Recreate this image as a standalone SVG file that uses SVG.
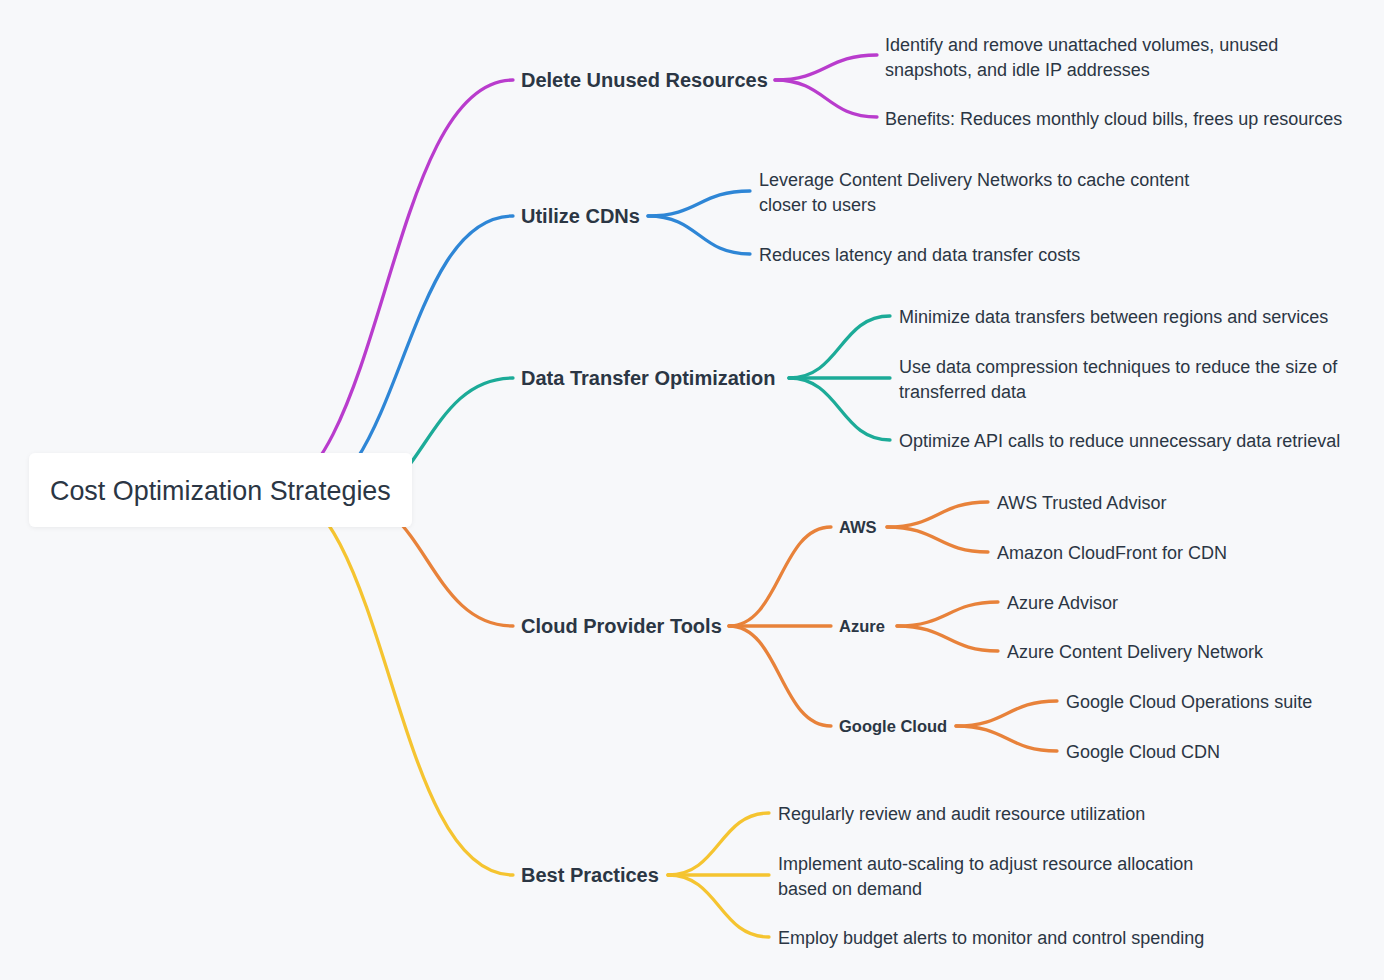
<svg xmlns="http://www.w3.org/2000/svg" width="1384" height="980" viewBox="0 0 1384 980">
<defs>
<style>
.bg{fill:#f7f8fa}
.lk{fill:none;stroke-width:3.3;stroke-linecap:round}
.p{stroke:#b93ccd}.b{stroke:#2e86d6}.t{stroke:#1cab98}.o{stroke:#e8823a}.y{stroke:#f5c430}
text{font-family:"Liberation Sans",Arial,sans-serif;fill:#2b3644}
.root{font-size:26.9px}
.l1{font-size:20px;font-weight:bold}
.l2{font-size:16.5px;font-weight:bold}
.lf{font-size:18px}
</style>
<filter id="sh" x="-10%" y="-30%" width="120%" height="160%">
<feDropShadow dx="0" dy="1" stdDeviation="2" flood-color="#000" flood-opacity="0.06"/>
</filter>
</defs>
<rect class="bg" x="0" y="0" width="1384" height="980"/>
<g id="connectors">
<path class="lk p" d="M257 500 C385 500 385 80 513 80"/>
<path class="lk b" d="M291 504 C402 504 402 216 513 216"/>
<path class="lk t" d="M335 510 C424 510 424 378 513 378"/>
<path class="lk o" d="M341 494 C427 494 427 626 513 626"/>
<path class="lk y" d="M267 483 C390 483 390 875 513 875"/>
<path class="lk p" d="M775 80 C826 80 826 55 877 55"/>
<path class="lk p" d="M775 80 C826 80 826 117 877 117"/>
<path class="lk b" d="M648 216 C699 216 699 191 750 191"/>
<path class="lk b" d="M648 216 C699 216 699 254 750 254"/>
<path class="lk t" d="M789 378 C840 378 840 316 890 316"/>
<path class="lk t" d="M789 378 L890 378"/>
<path class="lk t" d="M789 378 C840 378 840 440 890 440"/>
<path class="lk o" d="M729 626 C780 626 780 527 831 527"/>
<path class="lk o" d="M729 626 L831 626"/>
<path class="lk o" d="M729 626 C780 626 780 726 831 726"/>
<path class="lk o" d="M887 527 C938 527 938 502 988 502"/>
<path class="lk o" d="M887 527 C938 527 938 552 988 552"/>
<path class="lk o" d="M897 626 C948 626 948 602 998 602"/>
<path class="lk o" d="M897 626 C948 626 948 651 998 651"/>
<path class="lk o" d="M956 726 C1007 726 1007 701 1057 701"/>
<path class="lk o" d="M956 726 C1007 726 1007 751 1057 751"/>
<path class="lk y" d="M668 875 C719 875 719 813 769 813"/>
<path class="lk y" d="M668 875 L769 875"/>
<path class="lk y" d="M668 875 C719 875 719 937 769 937"/>
</g>
<g id="root">
<rect x="29" y="453" width="383" height="74" rx="6" fill="#ffffff" filter="url(#sh)"/>
<text class="root" x="50" y="500">Cost Optimization Strategies</text>
</g>
<g id="delete-unused-resources"><text class="l1" x="521" y="87">Delete Unused Resources</text></g>
<g id="delete-1"><text class="lf" x="885" y="51">Identify and remove unattached volumes, unused</text><text class="lf" x="885" y="76">snapshots, and idle IP addresses</text></g>
<g id="delete-2"><text class="lf" x="885" y="125">Benefits: Reduces monthly cloud bills, frees up resources</text></g>
<g id="utilize-cdns"><text class="l1" x="521" y="223">Utilize CDNs</text></g>
<g id="cdn-1"><text class="lf" x="759" y="186">Leverage Content Delivery Networks to cache content</text><text class="lf" x="759" y="211">closer to users</text></g>
<g id="cdn-2"><text class="lf" x="759" y="261">Reduces latency and data transfer costs</text></g>
<g id="data-transfer"><text class="l1" x="521" y="385">Data Transfer Optimization</text></g>
<g id="dt-1"><text class="lf" x="899" y="323">Minimize data transfers between regions and services</text></g>
<g id="dt-2"><text class="lf" x="899" y="372.5">Use data compression techniques to reduce the size of</text><text class="lf" x="899" y="397.5">transferred data</text></g>
<g id="dt-3"><text class="lf" x="899" y="447">Optimize API calls to reduce unnecessary data retrieval</text></g>
<g id="cloud-provider-tools"><text class="l1" x="521" y="633">Cloud Provider Tools</text></g>
<g id="aws"><text class="l2" x="839" y="533">AWS</text></g>
<g id="aws-1"><text class="lf" x="997" y="509">AWS Trusted Advisor</text></g>
<g id="aws-2"><text class="lf" x="997" y="559">Amazon CloudFront for CDN</text></g>
<g id="azure"><text class="l2" x="839" y="632">Azure</text></g>
<g id="azure-1"><text class="lf" x="1007" y="609">Azure Advisor</text></g>
<g id="azure-2"><text class="lf" x="1007" y="658">Azure Content Delivery Network</text></g>
<g id="google-cloud"><text class="l2" x="839" y="732">Google Cloud</text></g>
<g id="gc-1"><text class="lf" x="1066" y="708">Google Cloud Operations suite</text></g>
<g id="gc-2"><text class="lf" x="1066" y="758">Google Cloud CDN</text></g>
<g id="best-practices"><text class="l1" x="521" y="882">Best Practices</text></g>
<g id="bp-1"><text class="lf" x="778" y="820">Regularly review and audit resource utilization</text></g>
<g id="bp-2"><text class="lf" x="778" y="870">Implement auto-scaling to adjust resource allocation</text><text class="lf" x="778" y="895">based on demand</text></g>
<g id="bp-3"><text class="lf" x="778" y="944">Employ budget alerts to monitor and control spending</text></g>
</svg>
